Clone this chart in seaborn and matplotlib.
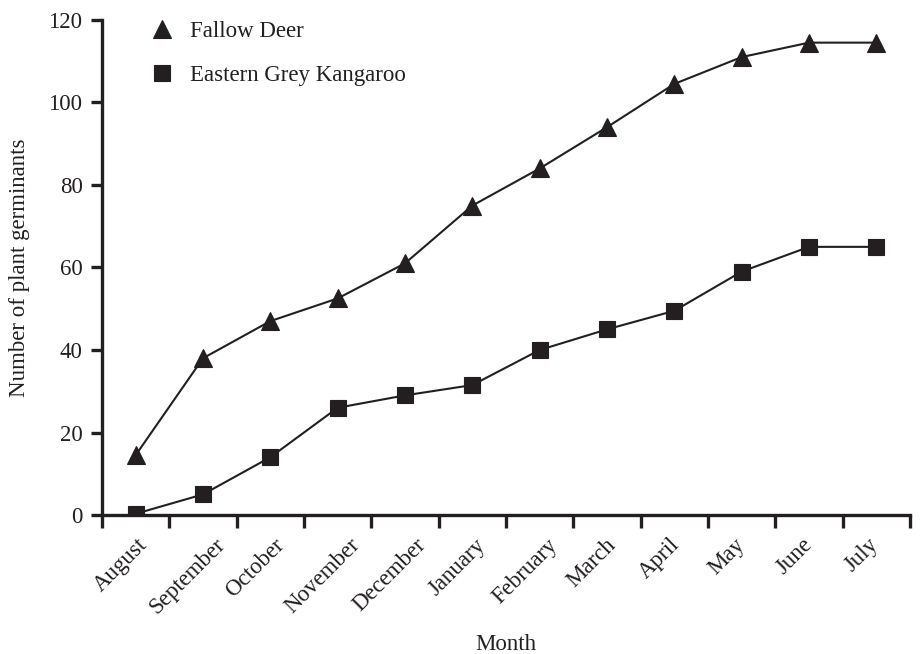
import matplotlib
matplotlib.use("Agg")
import matplotlib.pyplot as plt
import matplotlib.transforms as mtransforms
import seaborn as sns
import pandas as pd
import numpy as np

months = ["August", "September", "October", "November", "December", "January",
          "February", "March", "April", "May", "June", "July"]
fallow_deer = [14.5, 38, 47, 52.5, 61, 75, 84, 94, 104.5, 111, 114.5, 114.5]
kangaroo = [0.3, 5, 14, 26, 29, 31.5, 40, 45, 49.5, 59, 65, 65]

df = pd.DataFrame({
    "Month": months * 2,
    "Germinants": fallow_deer + kangaroo,
    "Species": ["Fallow Deer"] * 12 + ["Eastern Grey Kangaroo"] * 12,
})

sns.set_style("ticks")
plt.rcParams["font.family"] = ["Liberation Serif", "DejaVu Serif"]
ink = "#231f20"

fig = plt.figure(figsize=(9.22, 6.54), dpi=100)
ax = fig.add_axes([0.1106, 0.2125, 0.8764, 0.757])

sns.lineplot(data=df, x="Month", y="Germinants", style="Species",
             markers={"Fallow Deer": "^", "Eastern Grey Kangaroo": "s"},
             dashes=False, color=ink, linewidth=1.5, markersize=12,
             markeredgewidth=0.8, markeredgecolor=ink, ax=ax)
# triangles a bit bigger than the squares
for ln in ax.lines:
    if ln.get_marker() == "^":
        ln.set_markersize(13.5)

ax.set_xlim(-0.5, 11.5)
ax.set_ylim(0, 120)
ax.set_yticks(np.arange(0, 121, 20))
ax.set_xticks(range(12))
ax.set_xticks(np.arange(-0.5, 12, 1), minor=True)
ax.tick_params(axis="x", which="major", length=0, pad=14, labelsize=16.5, colors=ink)
ax.tick_params(axis="x", which="minor", length=9, width=2.4, color=ink)
ax.tick_params(axis="y", length=8, width=2.4, labelsize=16.5, color=ink,
               labelcolor=ink, pad=6)
ax.set_xticklabels(months, rotation=45, ha="center", va="top")
# labels sit a little left of their month
shift = mtransforms.ScaledTranslation(-0.15, 0, fig.dpi_scale_trans)
for lab in ax.get_xticklabels():
    lab.set_transform(lab.get_transform() + shift)

for s in ["top", "right"]:
    ax.spines[s].set_visible(False)
for s in ["left", "bottom"]:
    ax.spines[s].set_linewidth(2.4)
    ax.spines[s].set_color(ink)

ax.set_xlabel("Month", fontsize=16.5, color=ink, labelpad=11)
ax.set_ylabel("Number of plant germinants", fontsize=16.5, color=ink, labelpad=13)

leg = ax.legend(loc="upper left", bbox_to_anchor=(0.035, 1.04), frameon=False,
                fontsize=16.5, handlelength=1.0, handletextpad=0.7,
                labelspacing=1.0, title=None)
for h in leg.legend_handles:
    h.set_linestyle("none")
for t in leg.get_texts():
    t.set_color(ink)

fig.savefig("out.png", dpi=100)
